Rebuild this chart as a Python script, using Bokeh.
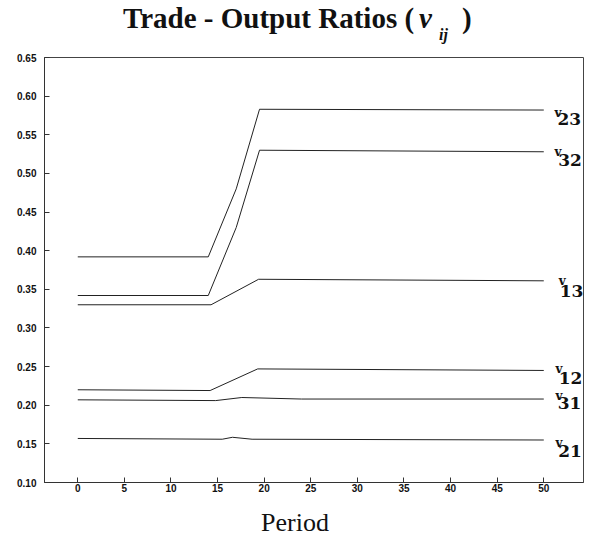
from bokeh.plotting import figure
from bokeh.layouts import column
from bokeh.models import Range1d, FixedTicker, ColumnDataSource, NumeralTickFormatter, Div
from bokeh.core.properties import value
from bokeh.embed import file_html
from bokeh.resources import INLINE

# ---- data ----
v23_x = [0, 14, 17, 19.5, 50]
v23_y = [0.392, 0.392, 0.480, 0.583, 0.582]
v32_x = [0, 14, 17, 19.5, 50]
v32_y = [0.342, 0.342, 0.430, 0.530, 0.528]
v13_x = [0, 14.3, 19.4, 50]
v13_y = [0.330, 0.330, 0.363, 0.361]
v12_x = [0, 14.2, 19.3, 50]
v12_y = [0.220, 0.219, 0.247, 0.245]
v31_x = [0, 14.8, 17.6, 24, 50]
v31_y = [0.207, 0.206, 0.210, 0.208, 0.208]
v21_x = [0, 15.5, 16.6, 18.7, 50]
v21_y = [0.157, 0.156, 0.1585, 0.156, 0.155]

series_subscripts = ["23", "32", "13", "12", "31", "21"]
x_ticks = [0, 5, 10, 15, 20, 25, 30, 35, 40, 45, 50]
y_ticks = [0.10, 0.15, 0.20, 0.25, 0.30, 0.35, 0.40, 0.45, 0.50, 0.55, 0.60, 0.65]

title_main = "Trade - Output Ratios ("
title_sym = "\u03bd"
title_sub = "ij"
title_close = ")"
x_label = "Period"

# ---- label placement (pixels, + is down / right) ----
v_dx = [10.7, 10.7, 15.0, 11.7, 11.7, 11.7]
d_dx = [13.7, 14.4, 16.0, 15.0, 14.0, 14.4]
v_dy = [2.5, 0.5, 0.5, -1.5, -3.5, 2.5]
d_dy = [9, 8, 10, 8, 4, 11]

PAGE_W = 590
TITLE_H = 45
FIG_H = 457
XL_H = 39

p = figure(width=PAGE_W, height=FIG_H, output_backend="svg", toolbar_location=None,
           x_range=Range1d(-3.57, 54.26), y_range=Range1d(0.10, 0.65),
           min_border_left=44, min_border_right=7, min_border_top=12, min_border_bottom=20,
           margin=0)
p.title.text = ""
p.grid.visible = False
p.background_fill_color = "white"
p.border_fill_color = "white"
p.outline_line_color = "#444444"
p.outline_line_width = 1

line_col = "#222222"
xs = [v23_x, v32_x, v13_x, v12_x, v31_x, v21_x]
ys = [v23_y, v32_y, v13_y, v12_y, v31_y, v21_y]
for x, y in zip(xs, ys):
    p.line(x, y, line_color=line_col, line_width=1)

end_x = [x[-1] for x in xs]
end_y = [y[-1] for y in ys]
src = ColumnDataSource(dict(x=end_x, y=end_y, sub=series_subscripts,
                            vdx=v_dx, ddx=d_dx, vdy=v_dy, ddy=d_dy,
                            v=["v"] * len(end_x)))
p.text(x="x", y="y", text="v", x_offset="vdx", y_offset="vdy", source=src,
       text_font=value("DejaVu Serif"), text_font_style="bold", text_font_size="12px",
       text_align="left", text_baseline="middle", text_color="#111111")
p.text(x="x", y="y", text="sub", x_offset="ddx", y_offset="ddy", source=src,
       text_font=value("DejaVu Serif"), text_font_style="bold", text_font_size="17px",
       text_align="left", text_baseline="middle", text_color="#111111")

for ax in (p.xaxis[0], p.yaxis[0]):
    ax.axis_line_color = "#333333"
    ax.major_tick_line_color = "#333333"
    ax.major_tick_in = 5
    ax.major_tick_out = 0
    ax.minor_tick_line_color = None
    ax.major_label_text_font = "Liberation Sans"
    ax.major_label_text_font_style = "bold"
    ax.major_label_text_font_size = "10px"
    ax.major_label_text_color = "#111111"

p.xaxis.ticker = FixedTicker(ticks=x_ticks)
p.yaxis.ticker = FixedTicker(ticks=y_ticks)
p.yaxis.formatter = NumeralTickFormatter(format="0.00")
p.xaxis.major_label_standoff = 1
p.yaxis.major_label_standoff = 8

span = "position:absolute;white-space:nowrap;"
title_html = (
    f'<div style="position:relative;width:{PAGE_W}px;height:{TITLE_H}px;'
    "font-family:'Liberation Serif',serif;font-weight:bold;color:#111;\">"
    f'<span style="{span}left:123px;top:4px;font-size:29px;line-height:29px;">{title_main}</span>'
    f'<span style="{span}left:419px;top:4px;font-size:29px;line-height:29px;font-style:italic;">{title_sym}</span>'
    f'<span style="{span}left:439px;top:27px;font-size:16px;line-height:16px;font-style:italic;">{title_sub}</span>'
    f'<span style="{span}left:462px;top:4px;font-size:29px;line-height:29px;">{title_close}</span>'
    "</div>"
)
xl_html = (
    f'<div style="position:relative;width:{PAGE_W}px;height:{XL_H}px;'
    "font-family:'Liberation Serif',serif;color:#111;\">"
    f'<span style="position:absolute;left:0;width:{PAGE_W}px;text-align:center;top:8px;'
    f'font-size:26px;line-height:26px;">{x_label}</span>'
    "</div>"
)
title_div = Div(text=title_html, width=PAGE_W, height=TITLE_H, margin=0)
xl_div = Div(text=xl_html, width=PAGE_W, height=XL_H, margin=0)

layout = column(title_div, p, xl_div, spacing=0, margin=0)
open("out.html", "w").write(file_html(layout, INLINE))
